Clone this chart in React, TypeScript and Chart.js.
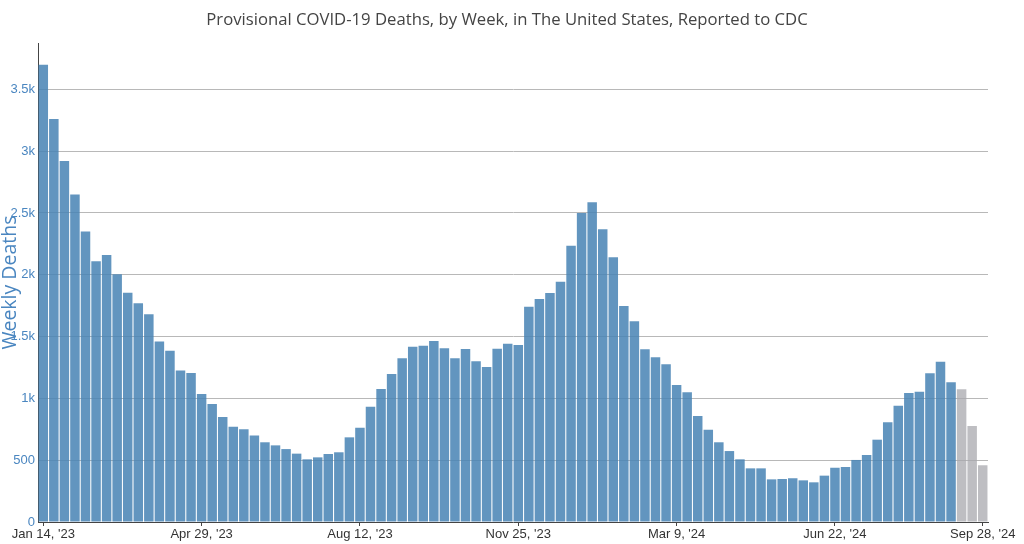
import React, { useEffect, useRef } from "react";
import { Chart, registerables } from "chart.js";

Chart.register(...registerables);

const TITLE = "Provisional COVID-19 Deaths, by Week, in The United States, Reported to CDC";
const Y_TITLE = "Weekly Deaths";

// Week-ending dates, first week and number of weeks
const START_DATE = "2023-01-14";
const WEEK_COUNT = 90;

// Weekly deaths
const weeklyDeaths = [
  3700, 3260, 2920, 2650, 2350, 2110, 2160, 2005, 1855, 1770,
  1680, 1460, 1385, 1225, 1205, 1035, 955, 850, 770, 750,
  700, 645, 620, 590, 553, 507, 523, 550, 564, 685,
  763, 933, 1076, 1197, 1324, 1418, 1426, 1464, 1405, 1324,
  1400, 1300, 1254, 1402, 1442, 1432, 1742, 1804, 1853, 1944,
  2235, 2500, 2586, 2368, 2141, 1748, 1625, 1397, 1332, 1276,
  1108, 1049, 857, 747, 645, 574, 507, 434, 434, 345,
  348, 354, 337, 321, 375, 439, 445, 502, 542, 666,
  807, 941, 1044, 1054, 1203, 1297, 1130, 1073, 777, 459,
];

// Last weeks are provisional/incomplete (gray)
const PROVISIONAL_WEEKS = 3;

// Indices of weeks that get an x tick label
const xTickIndices = [0, 15, 30, 45, 60, 75, 89];
const yTickValues = [0, 500, 1000, 1500, 2000, 2500, 3000, 3500];
const yTickLabels = ["0", "500", "1k", "1.5k", "2k", "2.5k", "3k", "3.5k"];

const MONTHS = ["Jan", "Feb", "Mar", "Apr", "May", "Jun", "Jul", "Aug", "Sep", "Oct", "Nov", "Dec"];

function weekLabels(): string[] {
  const out: string[] = [];
  const start = new Date(START_DATE + "T12:00:00Z");
  for (let i = 0; i < WEEK_COUNT; i++) {
    const d = new Date(start.getTime() + i * 7 * 86400000);
    const yy = String(d.getUTCFullYear()).slice(2);
    out.push(`${MONTHS[d.getUTCMonth()]} ${d.getUTCDate()}, '${yy}`);
  }
  return out;
}

// Centre the title slightly left of the canvas centre, as in the reference
const centerTitlePlugin = {
  id: "centerTitle",
  afterLayout(chart: any) {
    const tb = chart.titleBlock;
    if (tb) {
      tb.left = -10;
      tb.right = chart.width;
      tb.width = chart.width + 10;
    }
  },
};

export default function App() {
  const ref = useRef<HTMLCanvasElement | null>(null);

  useEffect(() => {
    if (!ref.current) return;
    const labels = weekLabels();
    const colors = weeklyDeaths.map((_, i) =>
      i >= weeklyDeaths.length - PROVISIONAL_WEEKS ? "rgba(168,168,174,0.75)" : "rgba(70,130,180,0.85)"
    );
    const chart = new Chart(ref.current, {
      type: "bar",
      data: {
        labels,
        datasets: [
          {
            data: weeklyDeaths,
            backgroundColor: colors,
            borderWidth: 0,
            barPercentage: 0.9,
            categoryPercentage: 1,
          },
        ],
      },
      plugins: [centerTitlePlugin],
      options: {
        responsive: false,
        animation: false,
        layout: { padding: { top: 0, right: 36, left: 0, bottom: 0 } },
        plugins: {
          legend: { display: false },
          tooltip: { enabled: false },
          title: {
            display: true,
            text: TITLE,
            color: "#444",
            font: { family: "'Open Sans'", size: 16.7, weight: "normal" },
            padding: { top: 10, bottom: 13 },
          },
        },
        scales: {
          x: {
            type: "category",
            offset: true,
            grid: {
              display: true,
              drawOnChartArea: false,
              drawTicks: true,
              tickLength: 4,
              tickColor: "#444",
              offset: false,
            },
            border: { display: true, color: "#444", width: 1 },
            ticks: {
              autoSkip: false,
              maxRotation: 0,
              minRotation: 0,
              padding: 1,
              color: "#333",
              font: { family: "'Liberation Sans', Arial, sans-serif", size: 13 },
              callback: (v: any) => labels[v as number],
            },
            afterBuildTicks: (scale: any) => {
              scale.ticks = xTickIndices.map((i) => ({ value: i }));
            },
            afterFit: (scale: any) => {
              scale.height = 22;
            },
          },
          y: {
            min: 0,
            max: 3875,
            grid: {
              color: (ctx: any) => (ctx.tick && ctx.tick.value === 0 ? "rgba(0,0,0,0)" : "#b8b8b8"),
              lineWidth: 1,
              drawTicks: false,
            },
            border: { display: true, color: "#444", width: 1 },
            ticks: {
              padding: 3,
              color: "#4a86c0",
              font: { family: "'Liberation Sans', Arial, sans-serif", size: 13 },
              callback: (v: any) => {
                const idx = yTickValues.indexOf(v as number);
                return idx >= 0 ? yTickLabels[idx] : "";
              },
            },
            afterBuildTicks: (scale: any) => {
              scale.ticks = yTickValues.map((v) => ({ value: v }));
            },
            title: {
              display: true,
              text: Y_TITLE,
              color: "#4a86c0",
              font: { family: "'Open Sans'", size: 19.5, weight: "normal" },
              padding: { top: -1, bottom: 0 },
            },
            afterFit: (scale: any) => {
              scale.width = 38;
            },
          },
        },
      },
    });
    return () => chart.destroy();
  }, []);

  return (
    <div style={{ position: "fixed", left: 0, top: 0, width: 1024, height: 544, background: "#fff" }}>
      <canvas ref={ref} width={1024} height={544} style={{ display: "block" }} />
    </div>
  );
}
